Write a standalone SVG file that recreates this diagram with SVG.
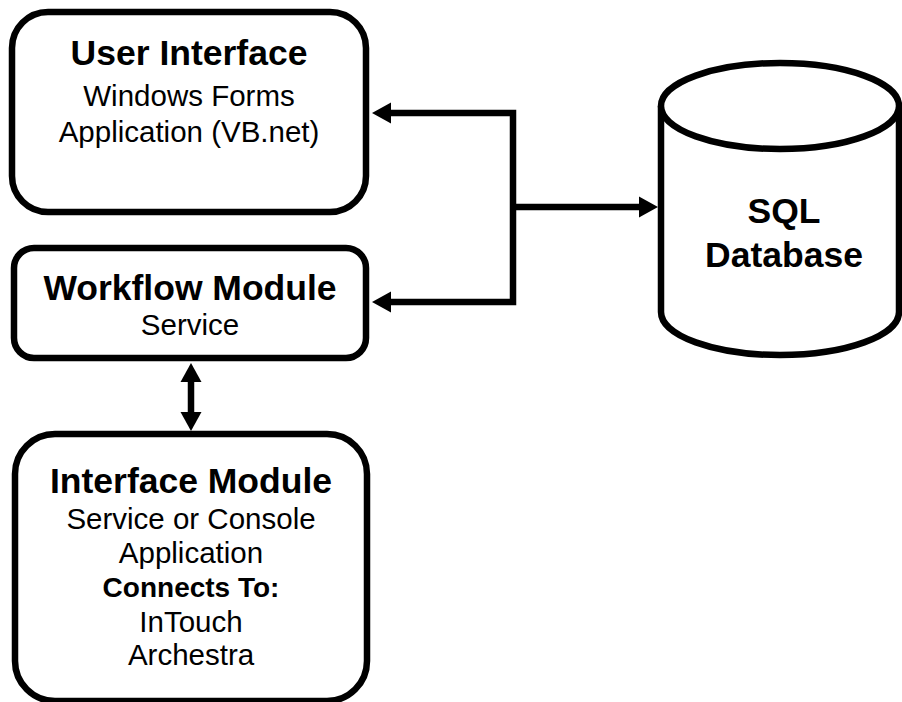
<svg xmlns="http://www.w3.org/2000/svg" width="902" height="702" viewBox="0 0 902 702">
<defs>
<style>
.box{fill:#fff;stroke:#000;stroke-width:6.5}
.t{font-family:"Liberation Sans",Arial,sans-serif;fill:#000;text-anchor:middle}
.h{font-size:35.5px;font-weight:bold}
.b{font-size:29.5px}
.bb{font-size:28px;font-weight:bold}
.c{fill:none;stroke:#000;stroke-width:6.5}
</style>
<path id="ah" d="M0,0 L-19,-10.5 L-19,10.5 Z" fill="#000"/>
</defs>
<rect width="902" height="702" fill="#fff"/>
<g id="connectors">
<polyline class="c" points="513,207 513,113 388,113"/>
<polyline class="c" points="513,207 513,302 388,302"/>
<line class="c" x1="510" y1="207" x2="640" y2="207"/>
<line class="c" x1="191" y1="380" x2="191" y2="414"/>
<use href="#ah" transform="translate(372,113) rotate(180)"/>
<use href="#ah" transform="translate(372,302) rotate(180)"/>
<use href="#ah" transform="translate(658,207)"/>
<use href="#ah" transform="translate(191,363) rotate(-90)"/>
<use href="#ah" transform="translate(191,431) rotate(90)"/>
</g>
<g id="user-interface">
<rect class="box" x="12" y="12" width="354" height="200" rx="36"/>
<text class="t h" x="189" y="65">User Interface</text>
<text class="t b" x="189" y="106">Windows Forms</text>
<text class="t b" x="189" y="142">Application (VB.net)</text>
</g>
<g id="workflow-module">
<rect class="box" x="14" y="248" width="352" height="110" rx="20"/>
<text class="t h" x="190" y="300">Workflow Module</text>
<text class="t b" x="190" y="335">Service</text>
</g>
<g id="interface-module">
<rect class="box" x="15" y="434" width="352" height="267" rx="40"/>
<text class="t h" x="191" y="493">Interface Module</text>
<text class="t b" x="191" y="529">Service or Console</text>
<text class="t b" x="191" y="563">Application</text>
<text class="t bb" x="191" y="597">Connects To:</text>
<text class="t b" x="191" y="632">InTouch</text>
<text class="t b" x="191" y="665">Archestra</text>
</g>
<g id="sql-database">
<path class="box" d="M661,106 L661,312 A119,43 0 0 0 899,312 L899,106"/>
<ellipse class="box" cx="780" cy="106" rx="119" ry="43"/>
<text class="t h" x="784" y="223">SQL</text>
<text class="t h" x="784" y="267">Database</text>
</g>
</svg>
